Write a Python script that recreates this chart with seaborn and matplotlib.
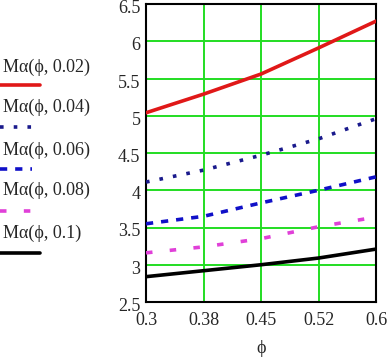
import pandas as pd
import seaborn as sns
import matplotlib.pyplot as plt
import matplotlib.transforms as mtransforms
from matplotlib.lines import Line2D

# Data
phi = [0.3, 0.375, 0.45, 0.525, 0.6]
m_002 = [5.04, 5.29, 5.56, 5.91, 6.27]
m_004 = [4.11, 4.27, 4.47, 4.69, 4.96]
m_006 = [3.55, 3.65, 3.83, 4.00, 4.18]
m_008 = [3.16, 3.24, 3.35, 3.51, 3.64]
m_010 = [2.84, 2.92, 3.00, 3.09, 3.21]

labels = ['Mα(ϕ, 0.02)', 'Mα(ϕ, 0.04)', 'Mα(ϕ, 0.06)', 'Mα(ϕ, 0.08)', 'Mα(ϕ, 0.1)']
series = [m_002, m_004, m_006, m_008, m_010]

x_ticks = [0.3, 0.375, 0.45, 0.525, 0.6]
x_tick_labels = ['0.3', '0.38', '0.45', '0.52', '0.6']
y_ticks = [2.5, 3, 3.5, 4, 4.5, 5, 5.5, 6, 6.5]
y_tick_labels = ['2.5', '3', '3.5', '4', '4.5', '5', '5.5', '6', '6.5']

colors = ['#e01818', '#1a1a8c', '#1010c8', '#e040d8', '#000000']
dashes = ['-', (0, (1, 2.8)), (0, (2.0, 2.2)), (0, (1.8, 4.8)), '-']

df = pd.DataFrame({
    'phi': phi * len(series),
    'M': [v for s in series for v in s],
    'curve': [lab for lab in labels for _ in phi],
})

sns.set_style('white')
plt.rcParams['font.family'] = ['Liberation Serif', 'DejaVu Serif']

W, H = 389, 359
fig = plt.figure(figsize=(W / 100, H / 100), dpi=100)
ax = fig.add_axes([146 / W, (H - 302) / H, 230 / W, 298 / H])

for lab, col, ls in zip(labels, colors, dashes):
    sns.lineplot(
        data=df[df['curve'] == lab],
        x='phi', y='M',
        color=col, linestyle=ls, linewidth=2.6,
        ax=ax, legend=False, zorder=3
    )

ax.set_xlim(0.3, 0.6)
ax.set_ylim(2.5, 6.5)
ax.set_xticks(x_ticks)
ax.set_xticklabels(x_tick_labels)
ax.set_yticks(y_ticks)
ax.set_yticklabels(y_tick_labels)
ax.tick_params(axis='y', length=0, labelsize=13, pad=4)
ax.tick_params(axis='x', length=0, labelsize=13, pad=7)
ax.grid(True, color='#22dd22', linewidth=1.4)
for sp in ax.spines.values():
    sp.set_color('black')
    sp.set_linewidth(1.5)
ax.set_xlabel('ϕ', fontsize=13, labelpad=8)
ax.set_ylabel('')

# y tick labels sit a little below their grid lines, as in the reference
shift = mtransforms.ScaledTranslation(0, -2.5 / 100, fig.dpi_scale_trans)
for t in ax.get_yticklabels():
    t.set_transform(t.get_transform() + shift)

# Legend on the left: label above a line sample
text_y = [67, 107, 150, 190, 233]
line_y = [85, 127, 169, 211, 253]
line_end = [40, 32, 32, 38, 40]
for lab, col, ls, ty, ly, le in zip(labels, colors, dashes, text_y, line_y, line_end):
    fig.text(3 / W, 1 - ty / H, lab, fontsize=13, va='center', ha='left')
    fig.add_artist(Line2D([0, le / W], [1 - ly / H, 1 - ly / H],
                          color=col, linestyle=ls, linewidth=2.6,
                          transform=fig.transFigure))

plt.savefig('out.png', dpi=100)
